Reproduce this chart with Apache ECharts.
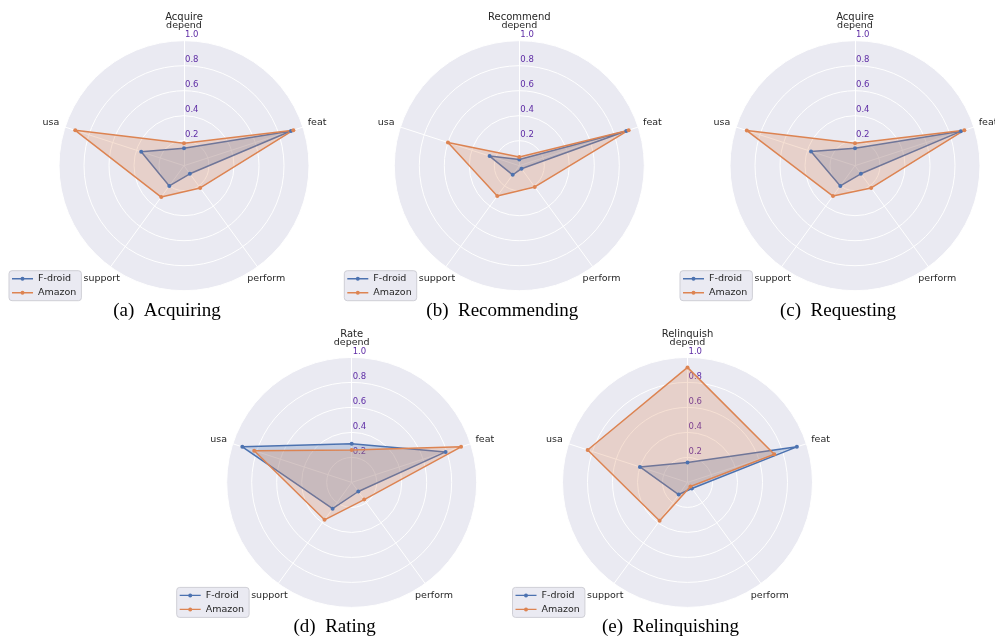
<!DOCTYPE html>
<html>
<head>
<meta charset="utf-8">
<title>F-droid vs Amazon radar charts</title>
<script src="https://cdn.jsdelivr.net/npm/echarts@6/dist/echarts.min.js"></script>
<style>
  html, body { margin: 0; padding: 0; background: #ffffff; }
  #chart { width: 995px; height: 638px; }
</style>
</head>
<body>
<div id="chart"></div>
<script>
// Quality aspects, listed clockwise from the top axis
const categories = ['depend', 'feat', 'perform', 'support', 'usa'];
const seriesNames = ['F-droid', 'Amazon'];
const tickValues = [0.2, 0.4, 0.6, 0.8, 1.0];

// Panel headings and sub-captions
const panelTitles = ['Acquire', 'Recommend', 'Acquire', 'Rate', 'Relinquish'];
const panelCaptions = ['(a)  Acquiring', '(b)  Recommending', '(c)  Requesting', '(d)  Rating', '(e)  Relinquishing'];

// Values per category (depend, feat, perform, support, usa)
const fdroidAcquire     = [0.14, 0.90, 0.08, 0.20, 0.36];
const amazonAcquire     = [0.18, 0.92, 0.22, 0.31, 0.915];
const fdroidRecommend   = [0.05, 0.90, 0.03, 0.09, 0.25];
const amazonRecommend   = [0.07, 0.92, 0.21, 0.30, 0.60];
const fdroidRequest     = [0.14, 0.89, 0.08, 0.20, 0.37];
const amazonRequest     = [0.18, 0.92, 0.22, 0.30, 0.91];
const fdroidRate        = [0.31, 0.79, 0.09, 0.26, 0.92];
const amazonRate        = [0.26, 0.92, 0.17, 0.37, 0.82];
const fdroidRelinquish  = [0.16, 0.92, 0.06, 0.12, 0.40];
const amazonRelinquish  = [0.92, 0.73, 0.04, 0.38, 0.84];

const fdroidData = [fdroidAcquire, fdroidRecommend, fdroidRequest, fdroidRate, fdroidRelinquish];
const amazonData = [amazonAcquire, amazonRecommend, amazonRequest, amazonRate, amazonRelinquish];

// ---- layout & style ----
const centers = [[184, 165.7], [519.3, 165.7], [855, 165.7], [351.7, 482.4], [687.5, 482.4]];
const RADIUS = 125;
const COLORS = ['#4C72B0', '#DD8452'];
const BG = '#EAEAF2';
const TEXT = '#262626';
const TICK_COLOR = '#5e2ca5';
const SANS = 'DejaVu Sans';

// ECharts places radar indicators counter-clockwise; reorder so the
// categories run clockwise from the top.
const order = [0, 4, 3, 2, 1];

// Legend key: short line with a filled dot in the middle
const legendIcon = 'path://M0,1.3H21V2.7H0Z M8.5,2a2,2 0 1,1 4,0a2,2 0 1,1 -4,0Z';

const radars = centers.map(function (c) {
  return {
    center: c,
    radius: RADIUS,
    startAngle: 90,
    shape: 'circle',
    splitNumber: 5,
    nameGap: 15,
    axisName: { color: TEXT, fontSize: 9.5, fontFamily: SANS },
    axisLine: { lineStyle: { color: '#ffffff', width: 1 } },
    splitLine: { lineStyle: { color: '#ffffff', width: 1 } },
    splitArea: { areaStyle: { color: [BG] } },
    axisTick: { show: false },
    axisLabel: { show: false },
    indicator: order.map(function (k, j) {
      const ind = {
        name: categories[k],
        min: 0,
        max: 1,
        nameTextStyle: { align: 'center', verticalAlign: 'middle' }
      };
      if (j === 0) {
        ind.axisLabel = {
          show: true,
          showMinLabel: false,
          color: TICK_COLOR,
          fontSize: 8.5,
          fontFamily: SANS,
          align: 'left',
          verticalAlign: 'bottom',
          padding: [0, 0, 1, 0],
          margin: -1,
          formatter: function (v) {
            return tickValues.indexOf(Math.round(v * 10) / 10) >= 0 ? v.toFixed(1) : '';
          }
        };
      } else {
        ind.axisLabel = { show: false };
      }
      return ind;
    })
  };
});

function item(name, values, color) {
  return {
    name: name,
    value: order.map(function (k) { return values[k]; }),
    symbol: 'circle',
    symbolSize: 4,
    itemStyle: { color: color },
    lineStyle: { color: color, width: 1.5 },
    areaStyle: { color: color, opacity: 0.25 }
  };
}

const series = centers.map(function (c, i) {
  return {
    type: 'radar',
    radarIndex: i,
    silent: true,
    emphasis: { disabled: true },
    data: [
      item(seriesNames[0], fdroidData[i], COLORS[0]),
      item(seriesNames[1], amazonData[i], COLORS[1])
    ]
  };
});

const titles = [];
centers.forEach(function (c, i) {
  titles.push({
    text: panelTitles[i],
    left: c[0], top: c[1] - 148.4,
    textAlign: 'center', textVerticalAlign: 'middle', padding: 0,
    textStyle: { fontSize: 10, fontWeight: 'normal', color: TEXT, fontFamily: SANS }
  });
  titles.push({
    text: panelCaptions[i],
    left: c[0] - 17, top: c[1] + 145,
    textAlign: 'center', textVerticalAlign: 'middle', padding: 0,
    textStyle: { fontSize: 19, fontWeight: 'normal', color: '#000000', fontFamily: 'Liberation Serif' }
  });
});

const legends = centers.map(function (c) {
  return {
    data: seriesNames.map(function (n, k) {
      return { name: n, itemStyle: { color: COLORS[k], opacity: 1, borderWidth: 0 } };
    }),
    left: c[0] - 175,
    top: c[1] + 105,
    orient: 'vertical',
    icon: legendIcon,
    itemWidth: 21,
    itemHeight: 4,
    itemGap: 4,
    padding: [3, 5, 3, 3],
    backgroundColor: BG,
    borderColor: '#cfcfd6',
    borderWidth: 1,
    borderRadius: 3,
    selectedMode: false,
    itemStyle: { borderWidth: 0 },
    textStyle: { fontSize: 9.5, color: TEXT, fontFamily: SANS }
  };
});

const chart = echarts.init(document.getElementById('chart'), null, { renderer: 'canvas' });
chart.setOption({
  animation: false,
  backgroundColor: '#ffffff',
  color: COLORS,
  title: titles,
  legend: legends,
  radar: radars,
  series: series
});
</script>
</body>
</html>
